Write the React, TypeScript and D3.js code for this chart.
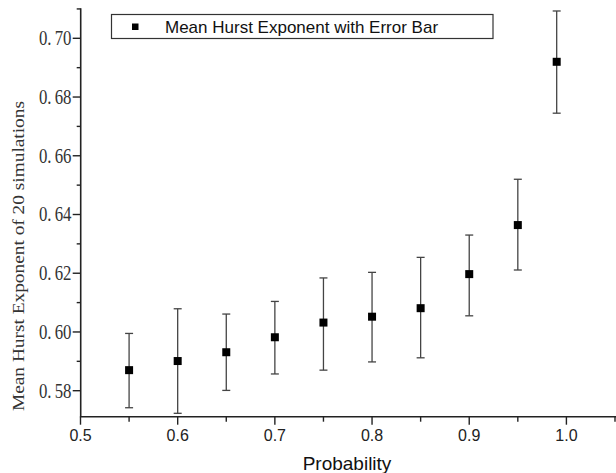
import React from "react";
import * as d3 from "d3";

const probability = [0.55, 0.6, 0.65, 0.7, 0.75, 0.8, 0.85, 0.9, 0.95, 0.99];
const meanHurst = [0.587, 0.5901, 0.5931, 0.5982, 0.6032, 0.6052, 0.6081, 0.6197, 0.6364, 0.692];
const upperBar = [0.5995, 0.6079, 0.6061, 0.6104, 0.6184, 0.6203, 0.6254, 0.633, 0.652, 0.7093];
const lowerBar = [0.5742, 0.5723, 0.5801, 0.5857, 0.587, 0.5898, 0.5912, 0.6055, 0.6211, 0.6745];
const xMajorTicks = [0.5, 0.6, 0.7, 0.8, 0.9, 1.0];
const xMinorTicks = [0.55, 0.65, 0.75, 0.85, 0.95, 1.05];
const yMajorTicks = [0.58, 0.6, 0.62, 0.64, 0.66, 0.68, 0.7];
const yMinorTicks = [0.59, 0.61, 0.63, 0.65, 0.67, 0.69, 0.71];
const legendLabel = "Mean Hurst Exponent with Error Bar";
const xTitle = "Probability";
const yTitle = "Mean Hurst Exponent of 20 simulations";

const W = 616;
const H = 473;

export default function App() {
  const x = d3.scaleLinear().domain([0.5, 1.05]).range([80.5, 615]);
  const y = d3.scaleLinear().domain([0.58, 0.7]).range([390.7, 38.3]);
  const axisY = 416.7;
  const axisX = 80.7;
  const yTop = y(0.7102);
  const serif = "'Liberation Serif', 'DejaVu Serif', serif";
  const sans = "'Liberation Sans', Arial, sans-serif";
  const fmtY = d3.format(".2f");
  const fmtX = d3.format(".1f");

  return (
    <svg
      width={W}
      height={H}
      viewBox={`0 0 ${W} ${H}`}
      style={{ position: "absolute", left: 0, top: 0, background: "#fff" }}
    >
      <rect x={0} y={0} width={W} height={H} fill="#fff" />

      {/* Y axis */}
      <line x1={axisX} x2={axisX} y1={yTop} y2={axisY} stroke="#222" strokeWidth={1.6} />
      {yMajorTicks.map((t) => {
        const s = fmtY(t);
        const [a, b] = s.split(".");
        return (
          <g key={"ym" + t}>
            <line x1={axisX - 8} x2={axisX} y1={y(t)} y2={y(t)} stroke="#222" strokeWidth={1.4} />
            <text
              x={71.5}
              y={y(t) + 7}
              textAnchor="end"
              fontFamily={serif}
              fontSize={21}
              fill="#333"
              transform={`translate(71.5 ${y(t)}) scale(0.8 1) translate(-71.5 ${-y(t)})`}
            >
              {a + "."}
              <tspan dx={4}>{b}</tspan>
            </text>
          </g>
        );
      })}
      {yMinorTicks
        .filter((t) => y(t) <= axisY && y(t) >= yTop - 1)
        .map((t) => (
          <line key={"yn" + t} x1={axisX - 4} x2={axisX} y1={y(t)} y2={y(t)} stroke="#222" strokeWidth={1.4} />
        ))}

      {/* X axis */}
      <line x1={axisX - 0.8} x2={W} y1={axisY} y2={axisY} stroke="#222" strokeWidth={1.6} />
      {xMajorTicks.map((t) => (
        <g key={"xm" + t}>
          <line x1={x(t)} x2={x(t)} y1={axisY} y2={axisY + 8} stroke="#222" strokeWidth={1.4} />
          <text x={x(t)} y={441} textAnchor="middle" fontFamily={sans} fontSize={16} fill="#222">
            {fmtX(t)}
          </text>
        </g>
      ))}
      {xMinorTicks.map((t) => (
        <line key={"xn" + t} x1={x(t)} x2={x(t)} y1={axisY} y2={axisY + 5} stroke="#222" strokeWidth={1.4} />
      ))}

      {/* Titles */}
      <text x={347} y={470} textAnchor="middle" fontFamily={sans} fontSize={19} fill="#111">
        {xTitle}
      </text>
      <text
        transform={`translate(24, 256) rotate(-90)`}
        textAnchor="middle"
        fontFamily={serif}
        fontSize={17}
        textLength={310}
        lengthAdjust="spacingAndGlyphs"
        fill="#333"
      >
        {yTitle}
      </text>

      {/* Error bars */}
      {probability.map((p, i) => {
        const cx = x(p);
        return (
          <g key={"eb" + i} stroke="#444" strokeWidth={1.3}>
            <line x1={cx} x2={cx} y1={y(upperBar[i])} y2={y(lowerBar[i])} />
            <line x1={cx - 4} x2={cx + 4} y1={y(upperBar[i])} y2={y(upperBar[i])} />
            <line x1={cx - 4} x2={cx + 4} y1={y(lowerBar[i])} y2={y(lowerBar[i])} />
          </g>
        );
      })}
      {probability.map((p, i) => (
        <rect key={"pt" + i} x={x(p) - 4} y={y(meanHurst[i]) - 4} width={8} height={8} fill="#000" />
      ))}

      {/* Legend */}
      <rect x={111.5} y={14.5} width={381.5} height={24} fill="#fff" stroke="#333" strokeWidth={1.2} />
      <rect x={132} y={23.5} width={6.5} height={6.5} fill="#000" />
      <text x={165} y={32.5} fontFamily={sans} fontSize={17} fill="#111">
        {legendLabel}
      </text>
    </svg>
  );
}
